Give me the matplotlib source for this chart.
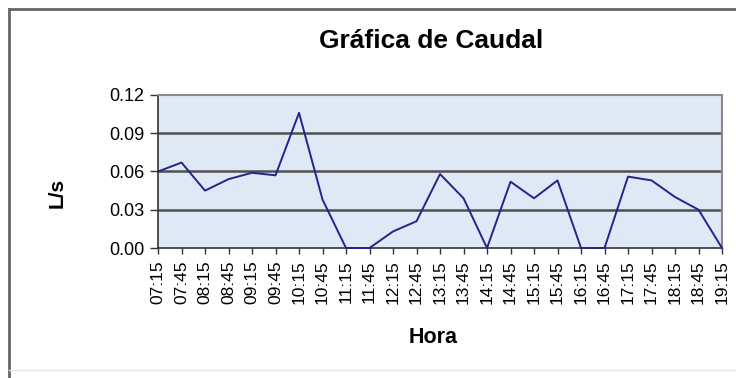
"""
grafica_caudal.py

Dibuja la gráfica de caudal (L/s) medida cada media hora entre las 07:15 y las 19:15.
"""

import matplotlib
matplotlib.use("Agg")
import matplotlib.pyplot as plt
from matplotlib.lines import Line2D
from matplotlib.ticker import FormatStrFormatter

plt.rcParams["font.family"] = ["Liberation Sans", "DejaVu Sans"]

# Horas de medición
horas = [
    "07:15", "07:45", "08:15", "08:45", "09:15", "09:45", "10:15",
    "10:45", "11:15", "11:45", "12:15", "12:45", "13:15", "13:45",
    "14:15", "14:45", "15:15", "15:45", "16:15", "16:45", "17:15",
    "17:45", "18:15", "18:45", "19:15",
]
# Caudal medido (L/s)
caudal = [
    0.060, 0.067, 0.045, 0.054, 0.059, 0.057, 0.106,
    0.038, 0.000, 0.000, 0.013, 0.021, 0.058, 0.039,
    0.000, 0.052, 0.039, 0.053, 0.000, 0.000, 0.056,
    0.053, 0.040, 0.030, 0.000,
]
marcas_y = [0.00, 0.03, 0.06, 0.09, 0.12]

fig = plt.figure(figsize=(7.36, 3.78), dpi=100)
fig.patch.set_facecolor("white")
ax = fig.add_axes([0.2147, 0.3439, 0.7663, 0.4048])
ax.set_facecolor("#dfe8f5")

x = list(range(len(horas)))
ax.plot(x, caudal, color="#24248a", lw=1.4, clip_on=False, zorder=3)

ax.set_xlim(0, len(horas) - 1)
ax.set_ylim(marcas_y[0], marcas_y[-1])
ax.set_xticks(x)
ax.set_xticklabels(horas, rotation=90, fontsize=12.5)
ax.set_yticks(marcas_y)
ax.yaxis.set_major_formatter(FormatStrFormatter("%.2f"))
ax.tick_params(axis="y", labelsize=13, length=6, width=1, color="#333333", pad=4)
ax.tick_params(axis="x", length=4, width=1, color="#333333", pad=5)

# lineas horizontales de referencia
for v in marcas_y[1:-1]:
    ax.axhline(v, color="#505050", lw=1.8, zorder=2)

for lado in ("left", "bottom"):
    ax.spines[lado].set_color("#333333")
    ax.spines[lado].set_linewidth(1.2)
for lado in ("top", "right"):
    ax.spines[lado].set_color("#8a8a8a")
    ax.spines[lado].set_linewidth(1.5)

fig.text(0.5856, 0.8915, "Gráfica de Caudal", fontsize=19, fontweight="bold",
         ha="center", va="center")
fig.text(0.588, 0.106, "Hora", fontsize=15.5, fontweight="bold",
         ha="center", va="center")
fig.text(0.0774, 0.489, "L/s", fontsize=15, fontweight="bold", rotation=90,
         ha="center", va="center")

# marco exterior del grafico
fig.add_artist(Line2D([9 / 736, 9 / 736], [0, 1 - 9 / 378], color="#666666", lw=2))
fig.add_artist(Line2D([9 / 736, 1], [1 - 9 / 378, 1 - 9 / 378], color="#666666", lw=2))
fig.add_artist(Line2D([9 / 736, 1], [1 - 370 / 378, 1 - 370 / 378], color="#e6e6e6", lw=1))

fig.savefig("out.png", dpi=100)
